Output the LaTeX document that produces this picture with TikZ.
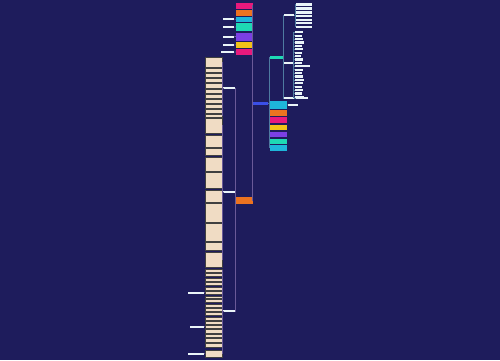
\documentclass[tikz,border=0pt]{standalone}
\definecolor{bg}{HTML}{1E1C5C}
\definecolor{cpink}{HTML}{E8197D}
\definecolor{corange}{HTML}{EC7320}
\definecolor{ccyan}{HTML}{1EB6DA}
\definecolor{cteal}{HTML}{1ED9B4}
\definecolor{cpurple}{HTML}{7B3FE4}
\definecolor{cyellow}{HTML}{F2C318}
\definecolor{cbeige}{HTML}{F0DCC4}
\definecolor{cbar}{HTML}{EAF4F8}
\definecolor{cblue}{HTML}{3A4FE8}
\definecolor{lineL}{HTML}{6A5A98}
\definecolor{lineR}{HTML}{4E7AA0}
\tikzset{
  bx/.style={inner sep=0pt,outer sep=0pt,anchor=center,draw=none},
  beige/.style={bx,fill=cbeige,draw=black!75,line width=0.3pt},
  wbar/.style={bx,fill=cbar},
  conL/.style={draw=lineL,line width=0.6pt},
  conR/.style={draw=lineR,line width=0.6pt}
}
\newcommand\bx[6]{\node[#6,minimum width={(#4)-(#2)},minimum height={(#5)-(#3)}] (#1) at ({((#2)+(#4))/2},{((#3)+(#5))/2}) {};}
\begin{document}
\begin{tikzpicture}[x=1pt,y=-1pt]
\useasboundingbox[fill=bg] (0,0) rectangle (500,360);
% central
\bx{c}{253}{101.5}{268}{104.5}{bx,fill=cblue}
% left top boxes
\bx{L1}{236}{3}{253}{8.5}{bx,fill=cpink}
\bx{L2}{236}{10}{253}{15.5}{bx,fill=corange}
\bx{L3}{236}{17}{253}{21.5}{bx,fill=ccyan}
\bx{L4}{236}{23}{253}{31}{bx,fill=cteal}
\bx{L5}{236}{32.5}{253}{40.5}{bx,fill=cpurple}
\bx{L6}{236}{42}{253}{47.5}{bx,fill=cyellow}
\bx{L7}{236}{49}{253}{55}{bx,fill=cpink}
\bx{M}{236}{197}{253}{203.5}{bx,fill=corange}
% left top children bars
\bx{b3}{223}{18}{234}{20.2}{wbar}
\bx{b4}{223}{26}{234}{28.2}{wbar}
\bx{b5}{223}{35.5}{234}{37.7}{wbar}
\bx{b6}{223}{44}{234}{46.2}{wbar}
\bx{b7}{221}{51}{234}{53.2}{wbar}
% orange children bars
\bx{A}{223}{87}{235}{89.3}{wbar}
\bx{B}{223}{191}{235}{193.3}{wbar}
\bx{C}{223}{310}{235}{312.3}{wbar}
% beige column
\foreach \a/\b [count=\i] in {57/67,68/72,73/77,78/82,83/88,89/93,94/98,99/103,104/108,109/113,114/117,
  118/133,135/147,148/155,157/171,172/188,190/202,203/222,223/241,242/250,252/267,
  269/272,273/276,278/281,282/285,287/290,291/294,296/298,299/302,304/307,308/311,312/315,317/320,321/324,325/328,329/333,334/337,338/342,343/347,350/357}
  {\bx{g\i}{205}{\a+0.3}{222}{\b-0.3}{beige}}
% left bars of beige
\bx{d1}{188}{291.5}{204}{293.7}{wbar}
\bx{d2}{190}{325.5}{204}{327.7}{wbar}
\bx{d3}{188}{352.5}{204}{354.7}{wbar}
% right side
\bx{T}{270}{56}{282.5}{58.5}{bx,fill=cteal}
\bx{RC1}{270}{100.5}{287}{109}{bx,fill=ccyan}
\bx{RC2}{270}{110}{287}{115.5}{bx,fill=corange}
\bx{RC3}{270}{117}{287}{123}{bx,fill=cpink}
\bx{RC4}{270}{124.5}{287}{130}{bx,fill=cyellow}
\bx{RC5}{270}{131.5}{287}{137}{bx,fill=cpurple}
\bx{RC6}{270}{138.5}{287}{143.5}{bx,fill=cteal}
\bx{RC7}{270}{144.5}{287}{151}{bx,fill=ccyan}
\bx{e1}{288}{104}{298}{106.2}{wbar}
\bx{R1}{283.5}{14}{294}{16.4}{wbar}
\bx{R2}{283.5}{62}{293}{64.4}{wbar}
\bx{R3}{283.5}{97}{294}{99.4}{wbar}
\bx{R3a}{296}{97}{308}{99.4}{wbar}
\foreach \a/\b [count=\i] in {3/6,7/10,11/14,15/17.5,18.5/21,22/24.5,25.5/28}
  {\bx{s\i}{296}{\a}{312}{\b-0.3}{wbar}}
\foreach \r [count=\i] in {303,302,303,304,302,303,302,301,303,302,310,303,302,303,304,303,302,303,302,304}
  {\bx{t\i}{294.5}{28.9+3.4*\i-1.1}{\r}{28.9+3.4*\i+1.1}{wbar}}
% connectors left
\foreach \n in {L1,L2,L3,L4,L5,L6,L7,M} \draw[conL] (c.west) -- ++(-0.6,0) |- (\n.east);
\foreach \p/\q in {L3/b3,L4/b4,L5/b5,L6/b6,L7/b7} \draw[conL] (\p.west) -- (\q.east);
\foreach \n in {A,B,C} \draw[conL] (M.west) -- ++(-0.6,0) |- (\n.east);
\foreach \i in {1,...,11} \draw[conL] (A.west) -- ++(-0.5,0) |- (g\i.east);
\foreach \i in {12,...,21} \draw[conL] (B.west) -- ++(-0.5,0) |- (g\i.east);
\foreach \i in {22,...,40} \draw[conL] (C.west) -- ++(-0.5,0) |- (g\i.east);
\draw[conL] (g27.west) -- (d1.east);
\draw[conL] (g35.west) -- (d2.east);
\draw[conL] (g40.west) -- (d3.east);
% connectors right
\foreach \n in {T,RC1,RC2,RC3,RC4,RC5,RC6,RC7} \draw[conR] (c.east) -- ++(0.8,0) |- (\n.west);
\draw[conR] (RC1.east) -- (e1.west);
\foreach \n in {R1,R2,R3} \draw[conR] (T.east) -- ++(0.5,0) |- (\n.west);
\foreach \i in {1,...,7} \draw[conR] (R1.east) -- ++(0.9,0) |- (s\i.west);
\foreach \i in {1,...,20} \draw[conR] (R2.east) -- ++(0.7,0) |- (t\i.west);
\draw[conR] (R3.east) -- (R3a.west);
\end{tikzpicture}
\end{document}
